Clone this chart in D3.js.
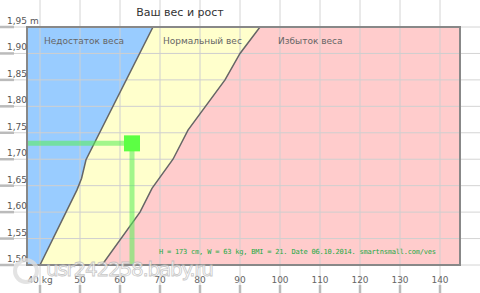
<!DOCTYPE html>
<html>
<head>
<meta charset="utf-8">
<script src="https://cdn.jsdelivr.net/npm/d3@7"></script>
<style>
  body { margin: 0; background: #fff; }
  svg { display: block; font-family: "DejaVu Sans", Verdana, sans-serif; }
</style>
</head>
<body>
<div id="chart"></div>
<script>
// chart values
var title = "Ваш вес и рост";
var zoneNames = ["Недостаток веса", "Нормальный вес", "Избыток веса"];
var xTicks = [40, 50, 60, 70, 80, 90, 100, 110, 120, 130, 140];
var yTicks = [1.50, 1.55, 1.60, 1.65, 1.70, 1.75, 1.80, 1.85, 1.90, 1.95];

// border underweight / normal
var lowW = [40, 49.25, 50.4, 51.5, 68.25];
var lowH = [1.50, 1.642, 1.664, 1.699, 1.95];
// border normal / overweight
var highW = [55.5, 65, 68, 73.25, 77, 86.25, 90, 95];
var highH = [1.50, 1.60, 1.645, 1.70, 1.755, 1.85, 1.90, 1.95];

var myWeight = 63, myHeight = 1.73;
var note = "H = 173 cm, W = 63 kg, BMI = 21. Date 06.10.2014. smartnsmall.com/ves";
var watermark = "usr242258.baby.ru";

var width = 480, height = 293;
var plot = {left: 27, right: 460, top: 27, bottom: 265};

var x = d3.scaleLinear().domain([40, 140]).range([40, 440]);
var y = d3.scaleLinear().domain([1.50, 1.95]).range([plot.bottom, plot.top]);
var wMin = x.invert(plot.left), wMax = x.invert(plot.right);

var svg = d3.select("#chart").append("svg")
    .attr("width", width)
    .attr("height", height);

// grid, it runs over the whole picture
svg.append("g").selectAll("line").data(xTicks).enter().append("line")
    .attr("x1", function(d) { return x(d); })
    .attr("x2", function(d) { return x(d); })
    .attr("y1", 0).attr("y2", height)
    .attr("stroke", "#d4d4d4");
svg.append("g").selectAll("line").data(yTicks).enter().append("line")
    .attr("x1", 0).attr("x2", width)
    .attr("y1", function(d) { return y(d); })
    .attr("y2", function(d) { return y(d); })
    .attr("stroke", "#d4d4d4");

// zones
var lowPts = lowW.map(function(w, i) { return [w, lowH[i]]; });
var highPts = highW.map(function(w, i) { return [w, highH[i]]; });
var line = d3.line().x(function(d) { return x(d[0]); }).y(function(d) { return y(d[1]); });

var clip = svg.append("defs").append("clipPath").attr("id", "plotclip")
    .append("rect")
    .attr("x", plot.left).attr("y", plot.top)
    .attr("width", plot.right - plot.left).attr("height", plot.bottom - plot.top);

var zones = svg.append("g").attr("clip-path", "url(#plotclip)");

var bluePoly = [[wMin, 1.50]].concat(lowPts).concat([[wMin, 1.95]]);
var yellowPoly = lowPts.concat(highPts.slice().reverse());
var pinkPoly = highPts.concat([[wMax, 1.95], [wMax, 1.50]]);

zones.append("path").attr("d", line(bluePoly) + "Z").attr("fill", "#99ccff");
zones.append("path").attr("d", line(yellowPoly) + "Z").attr("fill", "#ffffcc");
zones.append("path").attr("d", line(pinkPoly) + "Z").attr("fill", "#ffcccc");

// grid again, faint, over the zones
zones.append("g").selectAll("line").data(xTicks).enter().append("line")
    .attr("x1", function(d) { return x(d); })
    .attr("x2", function(d) { return x(d); })
    .attr("y1", plot.top).attr("y2", plot.bottom)
    .attr("stroke", "#cfcfcf");
zones.append("g").selectAll("line").data(yTicks).enter().append("line")
    .attr("x1", plot.left).attr("x2", plot.right)
    .attr("y1", function(d) { return y(d); })
    .attr("y2", function(d) { return y(d); })
    .attr("stroke", "#cfcfcf");

zones.append("path").attr("d", line(lowPts)).attr("fill", "none")
    .attr("stroke", "#666").attr("stroke-width", 1.5);
zones.append("path").attr("d", line(highPts)).attr("fill", "none")
    .attr("stroke", "#666").attr("stroke-width", 1.5);

// zone names
var zoneX = [44, 163, 278];
svg.append("g").selectAll("text").data(zoneNames).enter().append("text")
    .attr("x", function(d, i) { return zoneX[i]; })
    .attr("y", 44)
    .attr("font-size", "9px")
    .attr("fill", "#666")
    .text(function(d) { return d; });

// my point
var mark = svg.append("g");
mark.append("line")
    .attr("x1", plot.left).attr("x2", x(myWeight))
    .attr("y1", y(myHeight)).attr("y2", y(myHeight))
    .attr("stroke", "#55ee55").attr("stroke-opacity", 0.55).attr("stroke-width", 5);
mark.append("line")
    .attr("x1", x(myWeight)).attr("x2", x(myWeight))
    .attr("y1", y(myHeight)).attr("y2", plot.bottom)
    .attr("stroke", "#55ee55").attr("stroke-opacity", 0.55).attr("stroke-width", 5);
mark.append("rect")
    .attr("x", x(myWeight) - 8).attr("y", y(myHeight) - 8)
    .attr("width", 16).attr("height", 16)
    .attr("fill", "#5cff44");

// plot frame
svg.append("rect")
    .attr("x", plot.left).attr("y", plot.top)
    .attr("width", plot.right - plot.left).attr("height", plot.bottom - plot.top)
    .attr("fill", "none").attr("stroke", "#888").attr("stroke-width", 2);

// axes ticks, short thick marks
svg.append("g").selectAll("line").data(yTicks).enter().append("line")
    .attr("x1", 0).attr("x2", 14)
    .attr("y1", function(d) { return y(d); })
    .attr("y2", function(d) { return y(d); })
    .attr("stroke", "#bbb").attr("stroke-width", 2.5);
svg.append("g").selectAll("line").data(xTicks).enter().append("line")
    .attr("x1", function(d) { return x(d); })
    .attr("x2", function(d) { return x(d); })
    .attr("y1", 285).attr("y2", height)
    .attr("stroke", "#bbb").attr("stroke-width", 2.5);

// axis labels
svg.append("g").selectAll("text").data(yTicks).enter().append("text")
    .attr("x", 7)
    .attr("y", function(d) { return y(d) - 3; })
    .attr("font-size", "9px")
    .attr("fill", "#555")
    .text(function(d, i) {
        var s = d.toFixed(2).replace(".", ",");
        return i == yTicks.length - 1 ? s + " m" : s;
    });
svg.append("g").selectAll("text").data(xTicks).enter().append("text")
    .attr("x", function(d) { return x(d); })
    .attr("y", 283)
    .attr("text-anchor", "middle")
    .attr("font-size", "9px")
    .attr("fill", "#666")
    .text(function(d, i) { return i == 0 ? d + " kg" : d; });

// title
svg.append("text")
    .attr("x", 180).attr("y", 16)
    .attr("text-anchor", "middle")
    .attr("font-size", "11px")
    .attr("fill", "#333")
    .text(title);

// note
svg.append("text")
    .attr("x", 159).attr("y", 254)
    .attr("font-family", "'DejaVu Sans Mono', monospace")
    .attr("font-size", "7px")
    .attr("textLength", 277)
    .attr("fill", "#22aa44")
    .text(note);

// watermark
var wm = svg.append("g").attr("opacity", 0.8);
wm.append("circle").attr("cx", 26).attr("cy", 271).attr("r", 11)
    .attr("fill", "none").attr("stroke", "#ddd").attr("stroke-width", 4);
wm.append("text")
    .attr("x", 46).attr("y", 276)
    .attr("font-size", "20px")
    .attr("textLength", 168)
    .attr("fill", "#fff")
    .attr("stroke", "#bbb")
    .attr("stroke-width", 0.8)
    .text(watermark);
</script>
</body>
</html>
